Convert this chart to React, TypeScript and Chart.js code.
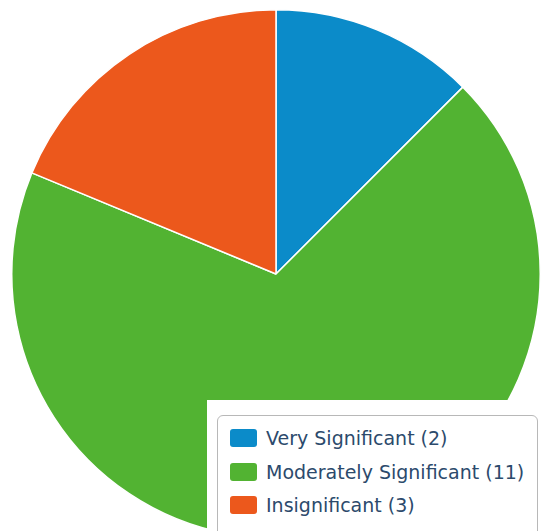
import React, { useEffect, useRef } from "react";
import { Chart, registerables } from "chart.js";

Chart.register(...registerables);

const categories = ["Very Significant", "Moderately Significant", "Insignificant"];
const values = [2, 11, 3];
const colors = ["#0b8bc9", "#52b332", "#ec581c"];

export default function App() {
  const ref = useRef<HTMLCanvasElement | null>(null);
  useEffect(() => {
    if (!ref.current) return;
    const chart = new Chart(ref.current, {
      type: "pie",
      data: {
        labels: categories,
        datasets: [
          {
            data: values,
            backgroundColor: colors,
            borderColor: "#ffffff",
            borderWidth: 1.5,
          },
        ],
      },
      options: {
        animation: false,
        responsive: true,
        maintainAspectRatio: false,
        layout: { padding: 0 },
        plugins: { legend: { display: false }, tooltip: { enabled: false } },
      },
    });
    return () => chart.destroy();
  }, []);

  return (
    <div style={{ position: "fixed", inset: 0, overflow: "hidden", background: "#fff" }}>
      <div style={{ position: "absolute", left: 11, top: 9, width: 530, height: 530 }}>
        <canvas ref={ref} />
      </div>
      <div
        style={{
          position: "absolute",
          left: 207,
          top: 400,
          width: 400,
          height: 200,
          background: "#fff",
        }}
      >
        <div
          style={{
            position: "absolute",
            left: 10,
            top: 15,
            width: 321,
            height: 160,
            border: "1px solid #b8b8b8",
            borderRadius: 6,
            boxSizing: "border-box",
          }}
        >
          {categories.map((c, i) => (
            <div
              key={c}
              style={{
                position: "absolute",
                left: 12,
                top: 11 + i * 33.5,
                height: 22,
                display: "flex",
                alignItems: "center",
                whiteSpace: "nowrap",
              }}
            >
              <span
                style={{
                  display: "inline-block",
                  width: 27,
                  height: 18,
                  borderRadius: 3,
                  background: colors[i],
                  marginRight: 9,
                }}
              />
              <span
                style={{
                  fontFamily: "'DejaVu Sans', sans-serif",
                  fontSize: 19,
                  lineHeight: "22px",
                  color: "#2c4a6c",
                }}
              >
                {`${c} (${values[i]})`}
              </span>
            </div>
          ))}
        </div>
      </div>
    </div>
  );
}
